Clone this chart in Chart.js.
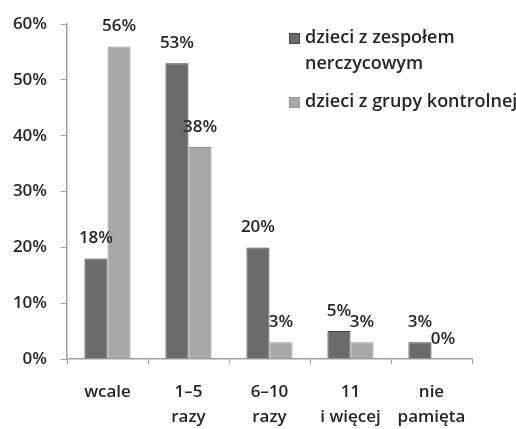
<!DOCTYPE html>
<html>
<head>
<meta charset="utf-8">
<script src="https://cdn.jsdelivr.net/npm/chart.js@4/dist/chart.umd.min.js"></script>
<style>
  html, body { margin: 0; padding: 0; background: #fff; }
  #wrap { width: 516px; height: 429px; }
</style>
</head>
<body>
<div id="wrap"><canvas id="c" width="516" height="429"></canvas></div>
<script>
// Categories (multi-line axis labels)
const categories = [
  ["wcale"],
  ["1–5", "razy"],
  ["6–10", "razy"],
  ["11", "i więcej"],
  ["nie", "pamięta"]
];

// Series names and values (%)
const seriesNames = [["dzieci z zespołem", "nerczycowym"], ["dzieci z grupy kontrolnej"]];
const studyGroup = [18, 53, 20, 5, 3];
const controlGroup = [56, 38, 3, 3, 0];

// Y axis tick values (%)
const yTicks = [0, 10, 20, 30, 40, 50, 60];

const FONT = "'Open Sans', sans-serif";
const WEIGHT = '600';
const SIZE = 17;
const TEXT = "#262626";

// Value labels centred above each bar
const valueLabels = {
  id: 'valueLabels',
  afterDatasetsDraw(chart) {
    const ctx = chart.ctx;
    ctx.save();
    ctx.font = WEIGHT + " " + SIZE + "px " + FONT;
    ctx.fillStyle = TEXT;
    ctx.textAlign = 'center';
    ctx.textBaseline = 'middle';
    chart.data.datasets.forEach((ds, i) => {
      chart.getDatasetMeta(i).data.forEach((bar, j) => {
        ctx.fillText(ds.data[j] + '%', bar.x, bar.y - 20);
      });
    });
    ctx.restore();
  }
};

// Legend drawn inside the plot, upper right
const sideLegend = {
  id: 'sideLegend',
  afterDraw(chart) {
    const ctx = chart.ctx;
    ctx.save();
    ctx.font = WEIGHT + " 18px " + FONT;
    ctx.textBaseline = 'middle';
    const rows = [38, 102];
    chart.data.datasets.forEach((ds, i) => {
      const y = rows[i];
      ctx.fillStyle = ds.backgroundColor;
      ctx.fillRect(289, y - 5, 11, 11);
      ctx.strokeStyle = ds.borderColor;
      ctx.lineWidth = 1;
      ctx.strokeRect(289.5, y - 4.5, 10, 10);
      ctx.fillStyle = TEXT;
      seriesNames[i].forEach((t, k) => ctx.fillText(t, 305, y + k * 26));
    });
    ctx.restore();
  }
};

new Chart(document.getElementById('c'), {
  type: 'bar',
  data: {
    labels: categories,
    datasets: [
      {
        label: seriesNames[0].join(' '),
        data: studyGroup,
        backgroundColor: '#6b6b6b',
        borderColor: '#444444',
        borderWidth: 1,
        barPercentage: 1.0,
        categoryPercentage: 0.57
      },
      {
        label: seriesNames[1].join(' '),
        data: controlGroup,
        backgroundColor: '#a8a8a8',
        borderColor: '#979797',
        borderWidth: 1,
        barPercentage: 1.0,
        categoryPercentage: 0.57
      }
    ]
  },
  options: {
    responsive: false,
    animation: false,
    layout: { padding: { top: 24, right: 44, left: 0, bottom: 0 } },
    plugins: {
      legend: { display: false },
      tooltip: { enabled: false }
    },
    scales: {
      x: {
        grid: {
          display: true,
          drawOnChartArea: false,
          drawTicks: true,
          tickLength: 5,
          color: '#a0a0a0',
          offset: true
        },
        border: { display: true, color: '#a0a0a0', width: 1.5 },
        ticks: {
          color: TEXT,
          font: { family: FONT, size: SIZE, weight: WEIGHT, lineHeight: 1.45 },
          padding: 16,
          maxRotation: 0,
          autoSkip: false
        },
        afterFit(s) { s.height = 70; }
      },
      y: {
        min: 0,
        max: 60,
        afterBuildTicks(s) { s.ticks = yTicks.map(v => ({ value: v })); },
        grid: {
          display: true,
          drawOnChartArea: false,
          drawTicks: true,
          tickLength: 6,
          color: '#a0a0a0'
        },
        border: { display: true, color: '#a0a0a0', width: 1.5 },
        ticks: {
          color: TEXT,
          font: { family: FONT, size: SIZE, weight: WEIGHT },
          padding: 14,
          callback: v => v + '%'
        },
        afterFit(s) { s.width = 67; }
      }
    }
  },
  plugins: [valueLabels, sideLegend]
});
</script>
</body>
</html>
